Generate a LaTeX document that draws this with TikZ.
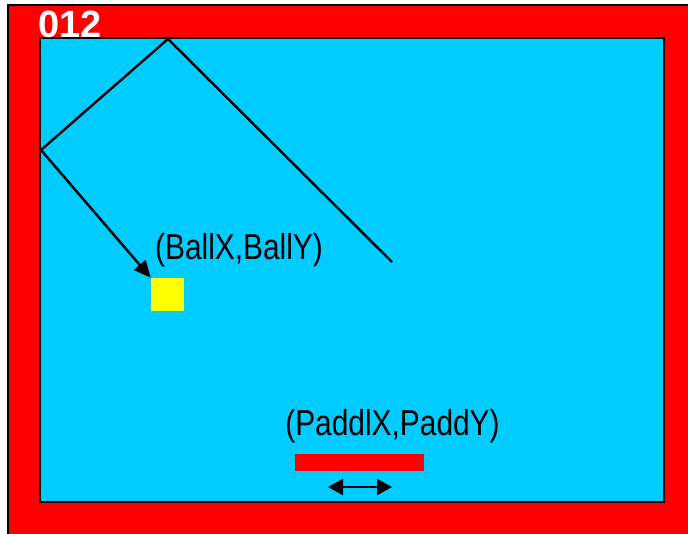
\documentclass[tikz,border=0pt]{standalone}
\usepackage{fontspec}
\setmainfont{Liberation Sans}
\usetikzlibrary{arrows.meta}
\definecolor{skyc}{RGB}{0,204,255}
\definecolor{redc}{RGB}{255,0,0}
\definecolor{yelc}{RGB}{255,255,0}
\tikzset{
  ln/.style={line width=2.4pt, black},
  lbl/.style={inner sep=0pt, font=\fontsize{36}{40}\selectfont, xscale=0.83, text=black},
  tip/.style={-{Triangle[length=17pt,width=15pt]}},
  dtip/.style={{Triangle[length=15pt,width=16pt]}-{Triangle[length=15pt,width=16pt]}},
}
\begin{document}
\begin{tikzpicture}[x=1pt,y=1pt]
\useasboundingbox (0,0) rectangle (688,533);
\clip (0,0) rectangle (688,533);
\fill[white] (0,0) rectangle (688,533);
% outer frame
\draw[fill=redc, line width=2pt] (8,-10) rectangle (700,527.5);
% playfield
\draw[fill=skyc, line width=2.5pt] (40,495) rectangle (664,31);
% score
\node[anchor=base west, inner sep=0pt, text=white, font=\fontsize{38}{40}\selectfont\bfseries] (score) at (38,495) {012};
% ball path
\coordinate (p0) at (392,271);
\coordinate (p1) at (168,494);
\coordinate (p2) at (41,383);
\node[fill=yelc, minimum width=33pt, minimum height=33pt, inner sep=0pt] (ball) at (167.5,238.5) {};
\draw[ln, tip] (p0) -- (p1) -- (p2) -- (ball.north west);
\node[lbl] (balllbl) at (239,282.5) {(BallX,BallY)};
% paddle
\node[fill=redc, minimum width=129pt, minimum height=16.7pt, inner sep=0pt] (paddle) at (359.5,70.7) {};
\node[lbl] (paddlbl) at (392.5,106.5) {(PaddlX,PaddY)};
\coordinate (dl) at (328,46);
\coordinate (dr) at (392,46);
\draw[ln, dtip] (dl) -- (dr);
\end{tikzpicture}
\end{document}
